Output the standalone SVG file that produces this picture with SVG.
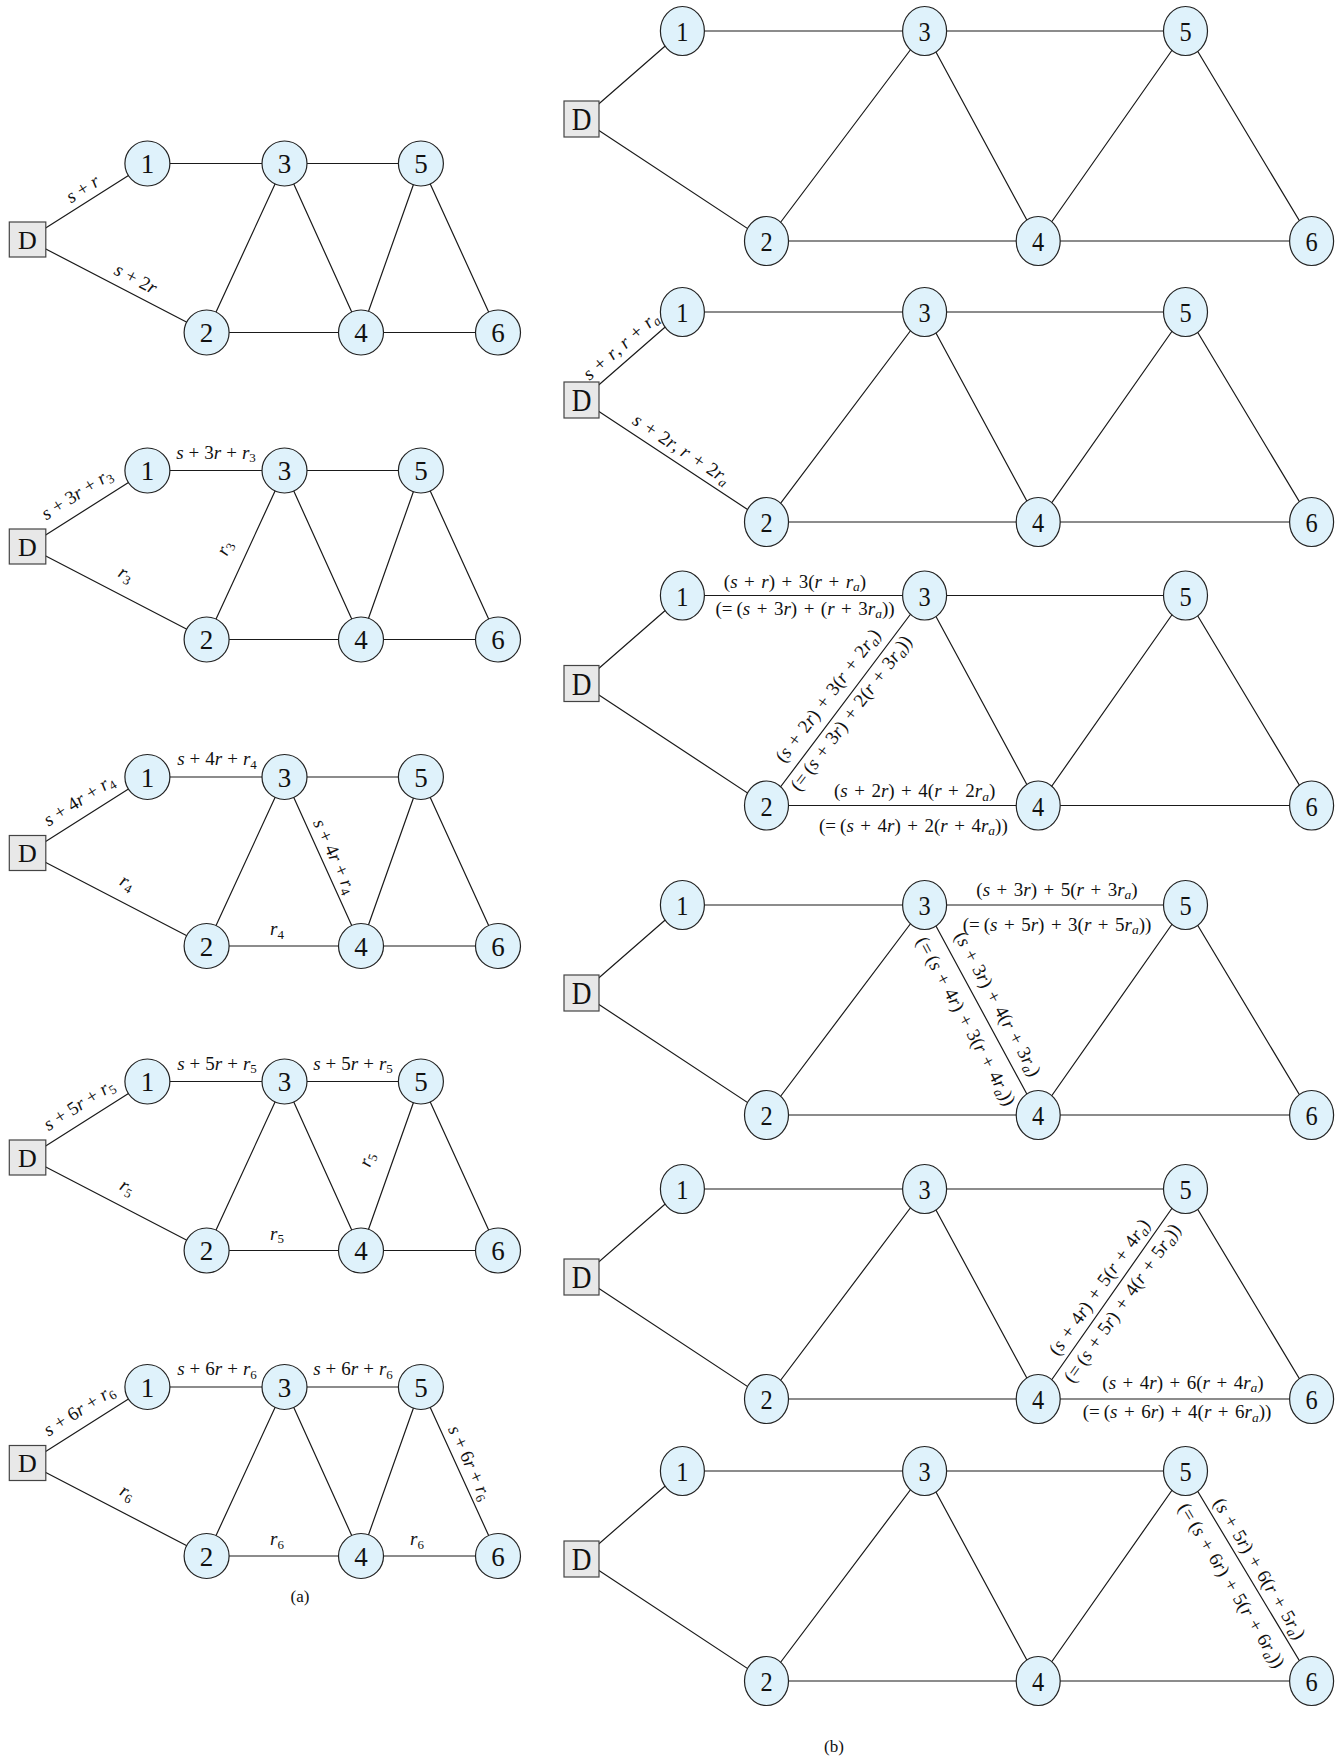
<svg xmlns="http://www.w3.org/2000/svg" width="1343" height="1758" viewBox="0 0 1343 1758">
<style>
.bg{fill:#ffffff}
.e{stroke:#1a1a1a;stroke-width:1.2;fill:none}
.n{fill:#dff2fb;stroke:#222;stroke-width:1.2}
.d{fill:#e8e8e8;stroke:#444;stroke-width:1.2}
.nl{font-family:"Liberation Serif",serif;font-size:27px;text-anchor:middle;fill:#111}
.nb{font-family:"Liberation Serif",serif;font-size:28px;text-anchor:middle;fill:#111}
.dl{font-family:"Liberation Serif",serif;font-size:26px;text-anchor:middle;fill:#111}
.dlb{font-family:"Liberation Serif",serif;font-size:31px;text-anchor:middle;fill:#111}
.l{font-family:"Liberation Serif",serif;font-size:19px;text-anchor:middle;fill:#111}
.lb{font-family:"Liberation Serif",serif;font-size:19px;text-anchor:middle;fill:#111}
.i{font-style:italic}
.s{font-size:13px}
.sb{font-size:13.5px}
.cap{font-family:"Liberation Serif",serif;font-size:17px;text-anchor:middle;fill:#111}
</style>
<rect class="bg" x="0" y="0" width="1343" height="1758"/>

<!-- ===== (a) panel 1 ===== -->
<g id="a1" transform="translate(0,163.5)">
<g id="a1-edges">
<path class="e" d="M27.5,76L147.4,0M27.5,76L206.6,169M147.4,0L284.5,0M284.5,0L420.9,0M206.6,169L361,169M361,169L498,169M284.5,0L206.6,169M284.5,0L361,169M420.9,0L361,169M420.9,0L498,169"/>
<g transform="translate(89.7,36.5) rotate(-32.37)"><text class="l" y="-7"><tspan class="i">s</tspan><tspan dx="5">+</tspan><tspan class="i" dx="5">r</tspan></text></g>
<g transform="translate(128.9,128.7) rotate(27.44)"><text class="l" y="-9"><tspan class="i">s</tspan><tspan dx="5">+</tspan><tspan dx="5">2</tspan><tspan class="i">r</tspan></text></g>
</g>
<g id="a1-D"><rect class="d" x="9.3" y="58.5" width="36.5" height="35"/><text class="dl" x="27.5" y="85">D</text></g>
<g id="a1-n1"><circle class="n" cx="147.4" cy="0" r="22.5"/><text class="nl" x="147.4" y="9.5">1</text></g>
<g id="a1-n2"><circle class="n" cx="206.6" cy="169" r="22.5"/><text class="nl" x="206.6" y="178.5">2</text></g>
<g id="a1-n3"><circle class="n" cx="284.5" cy="0" r="22.5"/><text class="nl" x="284.5" y="9.5">3</text></g>
<g id="a1-n4"><circle class="n" cx="361" cy="169" r="22.5"/><text class="nl" x="361" y="178.5">4</text></g>
<g id="a1-n5"><circle class="n" cx="420.9" cy="0" r="22.5"/><text class="nl" x="420.9" y="9.5">5</text></g>
<g id="a1-n6"><circle class="n" cx="498" cy="169" r="22.5"/><text class="nl" x="498" y="178.5">6</text></g>
</g>

<!-- ===== (a) panel 2 ===== -->
<g id="a2" transform="translate(0,470.5)">
<g id="a2-edges">
<path class="e" d="M27.5,76L147.4,0M27.5,76L206.6,169M147.4,0L284.5,0M284.5,0L420.9,0M206.6,169L361,169M361,169L498,169M284.5,0L206.6,169M284.5,0L361,169M420.9,0L361,169M420.9,0L498,169"/>
<g transform="translate(86.4,38.7) rotate(-32.37)"><text class="l" y="-12"><tspan class="i">s</tspan><tspan dx="5">+</tspan><tspan dx="5">3</tspan><tspan class="i">r</tspan><tspan dx="5">+</tspan><tspan class="i" dx="5">r</tspan><tspan class="s" dy="3.5">3</tspan></text></g>
<text class="l" x="216" y="-12"><tspan class="i">s</tspan><tspan dx="5">+</tspan><tspan dx="5">3</tspan><tspan class="i">r</tspan><tspan dx="5">+</tspan><tspan class="i" dx="5">r</tspan><tspan class="s" dy="3.5">3</tspan></text>
<g transform="translate(244.5,86.7) rotate(-65.25)"><text class="l" y="-16"><tspan class="i">r</tspan><tspan class="s" dy="3.5">3</tspan></text></g>
<g transform="translate(116.3,122.1) rotate(27.44)"><text class="l" y="-15"><tspan class="i">r</tspan><tspan class="s" dy="3.5">3</tspan></text></g>
</g>
<g id="a2-D"><rect class="d" x="9.3" y="58.5" width="36.5" height="35"/><text class="dl" x="27.5" y="85">D</text></g>
<g id="a2-n1"><circle class="n" cx="147.4" cy="0" r="22.5"/><text class="nl" x="147.4" y="9.5">1</text></g>
<g id="a2-n2"><circle class="n" cx="206.6" cy="169" r="22.5"/><text class="nl" x="206.6" y="178.5">2</text></g>
<g id="a2-n3"><circle class="n" cx="284.5" cy="0" r="22.5"/><text class="nl" x="284.5" y="9.5">3</text></g>
<g id="a2-n4"><circle class="n" cx="361" cy="169" r="22.5"/><text class="nl" x="361" y="178.5">4</text></g>
<g id="a2-n5"><circle class="n" cx="420.9" cy="0" r="22.5"/><text class="nl" x="420.9" y="9.5">5</text></g>
<g id="a2-n6"><circle class="n" cx="498" cy="169" r="22.5"/><text class="nl" x="498" y="178.5">6</text></g>
</g>

<!-- ===== (a) panel 3 ===== -->
<g id="a3" transform="translate(0,777)">
<g id="a3-edges">
<path class="e" d="M27.5,76L147.4,0M27.5,76L206.6,169M147.4,0L284.5,0M284.5,0L420.9,0M206.6,169L361,169M361,169L498,169M284.5,0L206.6,169M284.5,0L361,169M420.9,0L361,169M420.9,0L498,169"/>
<g transform="translate(88,37.7) rotate(-32.37)"><text class="l" y="-11"><tspan class="i">s</tspan><tspan dx="5">+</tspan><tspan dx="5">4</tspan><tspan class="i">r</tspan><tspan dx="5">+</tspan><tspan class="i" dx="5">r</tspan><tspan class="s" dy="3.5">4</tspan></text></g>
<text class="l" x="217" y="-12"><tspan class="i">s</tspan><tspan dx="5">+</tspan><tspan dx="5">4</tspan><tspan class="i">r</tspan><tspan dx="5">+</tspan><tspan class="i" dx="5">r</tspan><tspan class="s" dy="3.5">4</tspan></text>
<g transform="translate(322.8,84.6) rotate(65.64)"><text class="l" y="-7"><tspan class="i">s</tspan><tspan dx="5">+</tspan><tspan dx="5">4</tspan><tspan class="i">r</tspan><tspan dx="5">+</tspan><tspan class="i" dx="5">r</tspan><tspan class="s" dy="3.5">4</tspan></text></g>
<g transform="translate(118.1,123.1) rotate(27.44)"><text class="l" y="-14"><tspan class="i">r</tspan><tspan class="s" dy="3.5">4</tspan></text></g>
<text class="l" x="277" y="158"><tspan class="i">r</tspan><tspan class="s" dy="3.5">4</tspan></text>
</g>
<g id="a3-D"><rect class="d" x="9.3" y="58.5" width="36.5" height="35"/><text class="dl" x="27.5" y="85">D</text></g>
<g id="a3-n1"><circle class="n" cx="147.4" cy="0" r="22.5"/><text class="nl" x="147.4" y="9.5">1</text></g>
<g id="a3-n2"><circle class="n" cx="206.6" cy="169" r="22.5"/><text class="nl" x="206.6" y="178.5">2</text></g>
<g id="a3-n3"><circle class="n" cx="284.5" cy="0" r="22.5"/><text class="nl" x="284.5" y="9.5">3</text></g>
<g id="a3-n4"><circle class="n" cx="361" cy="169" r="22.5"/><text class="nl" x="361" y="178.5">4</text></g>
<g id="a3-n5"><circle class="n" cx="420.9" cy="0" r="22.5"/><text class="nl" x="420.9" y="9.5">5</text></g>
<g id="a3-n6"><circle class="n" cx="498" cy="169" r="22.5"/><text class="nl" x="498" y="178.5">6</text></g>
</g>

<!-- ===== (a) panel 4 ===== -->
<g id="a4" transform="translate(0,1081.5)">
<g id="a4-edges">
<path class="e" d="M27.5,76L147.4,0M27.5,76L206.6,169M147.4,0L284.5,0M284.5,0L420.9,0M206.6,169L361,169M361,169L498,169M284.5,0L206.6,169M284.5,0L361,169M420.9,0L361,169M420.9,0L498,169"/>
<g transform="translate(88,37.7) rotate(-32.37)"><text class="l" y="-11"><tspan class="i">s</tspan><tspan dx="5">+</tspan><tspan dx="5">5</tspan><tspan class="i">r</tspan><tspan dx="5">+</tspan><tspan class="i" dx="5">r</tspan><tspan class="s" dy="3.5">5</tspan></text></g>
<text class="l" x="217" y="-12"><tspan class="i">s</tspan><tspan dx="5">+</tspan><tspan dx="5">5</tspan><tspan class="i">r</tspan><tspan dx="5">+</tspan><tspan class="i" dx="5">r</tspan><tspan class="s" dy="3.5">5</tspan></text>
<text class="l" x="353" y="-12"><tspan class="i">s</tspan><tspan dx="5">+</tspan><tspan dx="5">5</tspan><tspan class="i">r</tspan><tspan dx="5">+</tspan><tspan class="i" dx="5">r</tspan><tspan class="s" dy="3.5">5</tspan></text>
<g transform="translate(390.3,86.2) rotate(-70.49)"><text class="l" y="-19"><tspan class="i">r</tspan><tspan class="s" dy="3.5">5</tspan></text></g>
<g transform="translate(118.1,123.1) rotate(27.44)"><text class="l" y="-14"><tspan class="i">r</tspan><tspan class="s" dy="3.5">5</tspan></text></g>
<text class="l" x="277" y="158"><tspan class="i">r</tspan><tspan class="s" dy="3.5">5</tspan></text>
</g>
<g id="a4-D"><rect class="d" x="9.3" y="58.5" width="36.5" height="35"/><text class="dl" x="27.5" y="85">D</text></g>
<g id="a4-n1"><circle class="n" cx="147.4" cy="0" r="22.5"/><text class="nl" x="147.4" y="9.5">1</text></g>
<g id="a4-n2"><circle class="n" cx="206.6" cy="169" r="22.5"/><text class="nl" x="206.6" y="178.5">2</text></g>
<g id="a4-n3"><circle class="n" cx="284.5" cy="0" r="22.5"/><text class="nl" x="284.5" y="9.5">3</text></g>
<g id="a4-n4"><circle class="n" cx="361" cy="169" r="22.5"/><text class="nl" x="361" y="178.5">4</text></g>
<g id="a4-n5"><circle class="n" cx="420.9" cy="0" r="22.5"/><text class="nl" x="420.9" y="9.5">5</text></g>
<g id="a4-n6"><circle class="n" cx="498" cy="169" r="22.5"/><text class="nl" x="498" y="178.5">6</text></g>
</g>

<!-- ===== (a) panel 5 ===== -->
<g id="a5" transform="translate(0,1387)">
<g id="a5-edges">
<path class="e" d="M27.5,76L147.4,0M27.5,76L206.6,169M147.4,0L284.5,0M284.5,0L420.9,0M206.6,169L361,169M361,169L498,169M284.5,0L206.6,169M284.5,0L361,169M420.9,0L361,169M420.9,0L498,169"/>
<g transform="translate(88,37.7) rotate(-32.37)"><text class="l" y="-11"><tspan class="i">s</tspan><tspan dx="5">+</tspan><tspan dx="5">6</tspan><tspan class="i">r</tspan><tspan dx="5">+</tspan><tspan class="i" dx="5">r</tspan><tspan class="s" dy="3.5">6</tspan></text></g>
<text class="l" x="217" y="-12"><tspan class="i">s</tspan><tspan dx="5">+</tspan><tspan dx="5">6</tspan><tspan class="i">r</tspan><tspan dx="5">+</tspan><tspan class="i" dx="5">r</tspan><tspan class="s" dy="3.5">6</tspan></text>
<text class="l" x="353" y="-12"><tspan class="i">s</tspan><tspan dx="5">+</tspan><tspan dx="5">6</tspan><tspan class="i">r</tspan><tspan dx="5">+</tspan><tspan class="i" dx="5">r</tspan><tspan class="s" dy="3.5">6</tspan></text>
<g transform="translate(457.9,81.1) rotate(65.47)"><text class="l" y="-7"><tspan class="i">s</tspan><tspan dx="5">+</tspan><tspan dx="5">6</tspan><tspan class="i">r</tspan><tspan dx="5">+</tspan><tspan class="i" dx="5">r</tspan><tspan class="s" dy="3.5">6</tspan></text></g>
<g transform="translate(118.1,123.1) rotate(27.44)"><text class="l" y="-14"><tspan class="i">r</tspan><tspan class="s" dy="3.5">6</tspan></text></g>
<text class="l" x="277" y="158"><tspan class="i">r</tspan><tspan class="s" dy="3.5">6</tspan></text>
<text class="l" x="417" y="158"><tspan class="i">r</tspan><tspan class="s" dy="3.5">6</tspan></text>
</g>
<g id="a5-D"><rect class="d" x="9.3" y="58.5" width="36.5" height="35"/><text class="dl" x="27.5" y="85">D</text></g>
<g id="a5-n1"><circle class="n" cx="147.4" cy="0" r="22.5"/><text class="nl" x="147.4" y="9.5">1</text></g>
<g id="a5-n2"><circle class="n" cx="206.6" cy="169" r="22.5"/><text class="nl" x="206.6" y="178.5">2</text></g>
<g id="a5-n3"><circle class="n" cx="284.5" cy="0" r="22.5"/><text class="nl" x="284.5" y="9.5">3</text></g>
<g id="a5-n4"><circle class="n" cx="361" cy="169" r="22.5"/><text class="nl" x="361" y="178.5">4</text></g>
<g id="a5-n5"><circle class="n" cx="420.9" cy="0" r="22.5"/><text class="nl" x="420.9" y="9.5">5</text></g>
<g id="a5-n6"><circle class="n" cx="498" cy="169" r="22.5"/><text class="nl" x="498" y="178.5">6</text></g>
</g>

<text class="cap" x="300" y="1602">(a)</text>

<!-- ===== (b) panel 1 ===== -->
<g id="b1" transform="translate(0,31)">
<g id="b1-edges">
<path class="e" d="M581.5,88L682.4,0M581.5,88L766.5,210M682.4,0L924.6,0M924.6,0L1185.5,0M766.5,210L1038.2,210M1038.2,210L1311.6,210M924.6,0L766.5,210M924.6,0L1038.2,210M1185.5,0L1038.2,210M1185.5,0L1311.6,210"/>
</g>
<g id="b1-D"><rect class="d" x="564" y="70" width="35" height="36"/><text class="dlb" transform="translate(581.5,99) scale(0.88,1)">D</text></g>
<g id="b1-n1"><ellipse class="n" cx="682.4" cy="0" rx="22" ry="24.5"/><text class="nb" transform="translate(682.4,10) scale(0.87,1)">1</text></g>
<g id="b1-n2"><ellipse class="n" cx="766.5" cy="210" rx="22" ry="24.5"/><text class="nb" transform="translate(766.5,220) scale(0.87,1)">2</text></g>
<g id="b1-n3"><ellipse class="n" cx="924.6" cy="0" rx="22" ry="24.5"/><text class="nb" transform="translate(924.6,10) scale(0.87,1)">3</text></g>
<g id="b1-n4"><ellipse class="n" cx="1038.2" cy="210" rx="22" ry="24.5"/><text class="nb" transform="translate(1038.2,220) scale(0.87,1)">4</text></g>
<g id="b1-n5"><ellipse class="n" cx="1185.5" cy="0" rx="22" ry="24.5"/><text class="nb" transform="translate(1185.5,10) scale(0.87,1)">5</text></g>
<g id="b1-n6"><ellipse class="n" cx="1311.6" cy="210" rx="22" ry="24.5"/><text class="nb" transform="translate(1311.6,220) scale(0.87,1)">6</text></g>
</g>

<!-- ===== (b) panel 2 ===== -->
<g id="b2" transform="translate(0,312)">
<g id="b2-edges">
<path class="e" d="M581.5,88L682.4,0M581.5,88L766.5,210M682.4,0L924.6,0M924.6,0L1185.5,0M766.5,210L1038.2,210M1038.2,210L1311.6,210M924.6,0L766.5,210M924.6,0L1038.2,210M1185.5,0L1038.2,210M1185.5,0L1311.6,210"/>
<g transform="translate(630.6,45.2) rotate(-41.1)"><text class="lb" y="-9"><tspan class="i">s</tspan><tspan dx="6.5">+</tspan><tspan class="i" dx="6.5">r</tspan>, <tspan class="i">r</tspan><tspan dx="6.5">+</tspan><tspan class="i" dx="6.5">r</tspan><tspan class="sb i" dy="3.5">a</tspan></text></g>
<g transform="translate(673.8,148.9) rotate(33.4)"><text class="lb" y="-8"><tspan class="i">s</tspan><tspan dx="6.5">+</tspan><tspan dx="6.5">2</tspan><tspan class="i">r</tspan>, <tspan class="i">r</tspan><tspan dx="6.5">+</tspan><tspan dx="6.5">2</tspan><tspan class="i">r</tspan><tspan class="sb i" dy="3.5">a</tspan></text></g>
</g>
<g id="b2-D"><rect class="d" x="564" y="70" width="35" height="36"/><text class="dlb" transform="translate(581.5,99) scale(0.88,1)">D</text></g>
<g id="b2-n1"><ellipse class="n" cx="682.4" cy="0" rx="22" ry="24.5"/><text class="nb" transform="translate(682.4,10) scale(0.87,1)">1</text></g>
<g id="b2-n2"><ellipse class="n" cx="766.5" cy="210" rx="22" ry="24.5"/><text class="nb" transform="translate(766.5,220) scale(0.87,1)">2</text></g>
<g id="b2-n3"><ellipse class="n" cx="924.6" cy="0" rx="22" ry="24.5"/><text class="nb" transform="translate(924.6,10) scale(0.87,1)">3</text></g>
<g id="b2-n4"><ellipse class="n" cx="1038.2" cy="210" rx="22" ry="24.5"/><text class="nb" transform="translate(1038.2,220) scale(0.87,1)">4</text></g>
<g id="b2-n5"><ellipse class="n" cx="1185.5" cy="0" rx="22" ry="24.5"/><text class="nb" transform="translate(1185.5,10) scale(0.87,1)">5</text></g>
<g id="b2-n6"><ellipse class="n" cx="1311.6" cy="210" rx="22" ry="24.5"/><text class="nb" transform="translate(1311.6,220) scale(0.87,1)">6</text></g>
</g>

<!-- ===== (b) panel 3 ===== -->
<g id="b3" transform="translate(0,595.5)">
<g id="b3-edges">
<path class="e" d="M581.5,88L682.4,0M581.5,88L766.5,210M682.4,0L924.6,0M924.6,0L1185.5,0M766.5,210L1038.2,210M1038.2,210L1311.6,210M924.6,0L766.5,210M924.6,0L1038.2,210M1185.5,0L1038.2,210M1185.5,0L1311.6,210"/>
<text class="lb" x="795" y="-8">(<tspan class="i">s</tspan><tspan dx="6.5">+</tspan><tspan class="i" dx="6.5">r</tspan>)<tspan dx="6.5">+</tspan><tspan dx="6.5">3(</tspan><tspan class="i">r</tspan><tspan dx="6.5">+</tspan><tspan class="i" dx="6.5">r</tspan><tspan class="sb i" dy="3.5">a</tspan><tspan dy="-3.5">)</tspan></text>
<text class="lb" x="805" y="19">(=<tspan dx="4">(</tspan><tspan class="i">s</tspan><tspan dx="6.5">+</tspan><tspan dx="6.5">3</tspan><tspan class="i">r</tspan>)<tspan dx="6.5">+</tspan><tspan dx="6.5">(</tspan><tspan class="i">r</tspan><tspan dx="6.5">+</tspan><tspan dx="6.5">3</tspan><tspan class="i">r</tspan><tspan class="sb i" dy="3.5">a</tspan><tspan dy="-3.5">))</tspan></text>
<g transform="translate(841.5,110.5) rotate(-53.03)">
<text class="lb" y="-11">(<tspan class="i">s</tspan><tspan dx="6.5">+</tspan><tspan dx="6.5">2</tspan><tspan class="i">r</tspan>)<tspan dx="6.5">+</tspan><tspan dx="6.5">3(</tspan><tspan class="i">r</tspan><tspan dx="6.5">+</tspan><tspan dx="6.5">2</tspan><tspan class="i">r</tspan><tspan class="sb i" dy="3.5">a</tspan><tspan dy="-3.5">)</tspan></text>
<text class="lb" y="18">(=<tspan dx="4">(</tspan><tspan class="i">s</tspan><tspan dx="6.5">+</tspan><tspan dx="6.5">3</tspan><tspan class="i">r</tspan>)<tspan dx="6.5">+</tspan><tspan dx="6.5">2(</tspan><tspan class="i">r</tspan><tspan dx="6.5">+</tspan><tspan dx="6.5">3</tspan><tspan class="i">r</tspan><tspan class="sb i" dy="3.5">a</tspan><tspan dy="-3.5">))</tspan></text>
</g>
<text class="lb" x="914.6" y="201.5">(<tspan class="i">s</tspan><tspan dx="6.5">+</tspan><tspan dx="6.5">2</tspan><tspan class="i">r</tspan>)<tspan dx="6.5">+</tspan><tspan dx="6.5">4(</tspan><tspan class="i">r</tspan><tspan dx="6.5">+</tspan><tspan dx="6.5">2</tspan><tspan class="i">r</tspan><tspan class="sb i" dy="3.5">a</tspan><tspan dy="-3.5">)</tspan></text>
<text class="lb" x="913.4" y="236">(=<tspan dx="4">(</tspan><tspan class="i">s</tspan><tspan dx="6.5">+</tspan><tspan dx="6.5">4</tspan><tspan class="i">r</tspan>)<tspan dx="6.5">+</tspan><tspan dx="6.5">2(</tspan><tspan class="i">r</tspan><tspan dx="6.5">+</tspan><tspan dx="6.5">4</tspan><tspan class="i">r</tspan><tspan class="sb i" dy="3.5">a</tspan><tspan dy="-3.5">))</tspan></text>
</g>
<g id="b3-D"><rect class="d" x="564" y="70" width="35" height="36"/><text class="dlb" transform="translate(581.5,99) scale(0.88,1)">D</text></g>
<g id="b3-n1"><ellipse class="n" cx="682.4" cy="0" rx="22" ry="24.5"/><text class="nb" transform="translate(682.4,10) scale(0.87,1)">1</text></g>
<g id="b3-n2"><ellipse class="n" cx="766.5" cy="210" rx="22" ry="24.5"/><text class="nb" transform="translate(766.5,220) scale(0.87,1)">2</text></g>
<g id="b3-n3"><ellipse class="n" cx="924.6" cy="0" rx="22" ry="24.5"/><text class="nb" transform="translate(924.6,10) scale(0.87,1)">3</text></g>
<g id="b3-n4"><ellipse class="n" cx="1038.2" cy="210" rx="22" ry="24.5"/><text class="nb" transform="translate(1038.2,220) scale(0.87,1)">4</text></g>
<g id="b3-n5"><ellipse class="n" cx="1185.5" cy="0" rx="22" ry="24.5"/><text class="nb" transform="translate(1185.5,10) scale(0.87,1)">5</text></g>
<g id="b3-n6"><ellipse class="n" cx="1311.6" cy="210" rx="22" ry="24.5"/><text class="nb" transform="translate(1311.6,220) scale(0.87,1)">6</text></g>
</g>

<!-- ===== (b) panel 4 ===== -->
<g id="b4" transform="translate(0,905)">
<g id="b4-edges">
<path class="e" d="M581.5,88L682.4,0M581.5,88L766.5,210M682.4,0L924.6,0M924.6,0L1185.5,0M766.5,210L1038.2,210M1038.2,210L1311.6,210M924.6,0L766.5,210M924.6,0L1038.2,210M1185.5,0L1038.2,210M1185.5,0L1311.6,210"/>
<text class="lb" x="1057" y="-9.5">(<tspan class="i">s</tspan><tspan dx="6.5">+</tspan><tspan dx="6.5">3</tspan><tspan class="i">r</tspan>)<tspan dx="6.5">+</tspan><tspan dx="6.5">5(</tspan><tspan class="i">r</tspan><tspan dx="6.5">+</tspan><tspan dx="6.5">3</tspan><tspan class="i">r</tspan><tspan class="sb i" dy="3.5">a</tspan><tspan dy="-3.5">)</tspan></text>
<text class="lb" x="1057" y="25.5">(=<tspan dx="4">(</tspan><tspan class="i">s</tspan><tspan dx="6.5">+</tspan><tspan dx="6.5">5</tspan><tspan class="i">r</tspan>)<tspan dx="6.5">+</tspan><tspan dx="6.5">3(</tspan><tspan class="i">r</tspan><tspan dx="6.5">+</tspan><tspan dx="6.5">5</tspan><tspan class="i">r</tspan><tspan class="sb i" dy="3.5">a</tspan><tspan dy="-3.5">))</tspan></text>
<g transform="translate(982.6,107.2) rotate(61.6)">
<text class="lb" y="-11">(<tspan class="i">s</tspan><tspan dx="6.5">+</tspan><tspan dx="6.5">3</tspan><tspan class="i">r</tspan>)<tspan dx="6.5">+</tspan><tspan dx="6.5">4(</tspan><tspan class="i">r</tspan><tspan dx="6.5">+</tspan><tspan dx="6.5">3</tspan><tspan class="i">r</tspan><tspan class="sb i" dy="3.5">a</tspan><tspan dy="-3.5">)</tspan></text>
<text class="lb" y="25">(=<tspan dx="4">(</tspan><tspan class="i">s</tspan><tspan dx="6.5">+</tspan><tspan dx="6.5">4</tspan><tspan class="i">r</tspan>)<tspan dx="6.5">+</tspan><tspan dx="6.5">3(</tspan><tspan class="i">r</tspan><tspan dx="6.5">+</tspan><tspan dx="6.5">4</tspan><tspan class="i">r</tspan><tspan class="sb i" dy="3.5">a</tspan><tspan dy="-3.5">))</tspan></text>
</g>
</g>
<g id="b4-D"><rect class="d" x="564" y="70" width="35" height="36"/><text class="dlb" transform="translate(581.5,99) scale(0.88,1)">D</text></g>
<g id="b4-n1"><ellipse class="n" cx="682.4" cy="0" rx="22" ry="24.5"/><text class="nb" transform="translate(682.4,10) scale(0.87,1)">1</text></g>
<g id="b4-n2"><ellipse class="n" cx="766.5" cy="210" rx="22" ry="24.5"/><text class="nb" transform="translate(766.5,220) scale(0.87,1)">2</text></g>
<g id="b4-n3"><ellipse class="n" cx="924.6" cy="0" rx="22" ry="24.5"/><text class="nb" transform="translate(924.6,10) scale(0.87,1)">3</text></g>
<g id="b4-n4"><ellipse class="n" cx="1038.2" cy="210" rx="22" ry="24.5"/><text class="nb" transform="translate(1038.2,220) scale(0.87,1)">4</text></g>
<g id="b4-n5"><ellipse class="n" cx="1185.5" cy="0" rx="22" ry="24.5"/><text class="nb" transform="translate(1185.5,10) scale(0.87,1)">5</text></g>
<g id="b4-n6"><ellipse class="n" cx="1311.6" cy="210" rx="22" ry="24.5"/><text class="nb" transform="translate(1311.6,220) scale(0.87,1)">6</text></g>
</g>

<!-- ===== (b) panel 5 ===== -->
<g id="b5" transform="translate(0,1189)">
<g id="b5-edges">
<path class="e" d="M581.5,88L682.4,0M581.5,88L766.5,210M682.4,0L924.6,0M924.6,0L1185.5,0M766.5,210L1038.2,210M1038.2,210L1311.6,210M924.6,0L766.5,210M924.6,0L1038.2,210M1185.5,0L1038.2,210M1185.5,0L1311.6,210"/>
<g transform="translate(1110.9,106.2) rotate(-54.95)">
<text class="lb" y="-8">(<tspan class="i">s</tspan><tspan dx="6.5">+</tspan><tspan dx="6.5">4</tspan><tspan class="i">r</tspan>)<tspan dx="6.5">+</tspan><tspan dx="6.5">5(</tspan><tspan class="i">r</tspan><tspan dx="6.5">+</tspan><tspan dx="6.5">4</tspan><tspan class="i">r</tspan><tspan class="sb i" dy="3.5">a</tspan><tspan dy="-3.5">)</tspan></text>
<text class="lb" y="20">(=<tspan dx="4">(</tspan><tspan class="i">s</tspan><tspan dx="6.5">+</tspan><tspan dx="6.5">5</tspan><tspan class="i">r</tspan>)<tspan dx="6.5">+</tspan><tspan dx="6.5">4(</tspan><tspan class="i">r</tspan><tspan dx="6.5">+</tspan><tspan dx="6.5">5</tspan><tspan class="i">r</tspan><tspan class="sb i" dy="3.5">a</tspan><tspan dy="-3.5">))</tspan></text>
</g>
<text class="lb" x="1183" y="199.7">(<tspan class="i">s</tspan><tspan dx="6.5">+</tspan><tspan dx="6.5">4</tspan><tspan class="i">r</tspan>)<tspan dx="6.5">+</tspan><tspan dx="6.5">6(</tspan><tspan class="i">r</tspan><tspan dx="6.5">+</tspan><tspan dx="6.5">4</tspan><tspan class="i">r</tspan><tspan class="sb i" dy="3.5">a</tspan><tspan dy="-3.5">)</tspan></text>
<text class="lb" x="1177" y="229">(=<tspan dx="4">(</tspan><tspan class="i">s</tspan><tspan dx="6.5">+</tspan><tspan dx="6.5">6</tspan><tspan class="i">r</tspan>)<tspan dx="6.5">+</tspan><tspan dx="6.5">4(</tspan><tspan class="i">r</tspan><tspan dx="6.5">+</tspan><tspan dx="6.5">6</tspan><tspan class="i">r</tspan><tspan class="sb i" dy="3.5">a</tspan><tspan dy="-3.5">))</tspan></text>
</g>
<g id="b5-D"><rect class="d" x="564" y="70" width="35" height="36"/><text class="dlb" transform="translate(581.5,99) scale(0.88,1)">D</text></g>
<g id="b5-n1"><ellipse class="n" cx="682.4" cy="0" rx="22" ry="24.5"/><text class="nb" transform="translate(682.4,10) scale(0.87,1)">1</text></g>
<g id="b5-n2"><ellipse class="n" cx="766.5" cy="210" rx="22" ry="24.5"/><text class="nb" transform="translate(766.5,220) scale(0.87,1)">2</text></g>
<g id="b5-n3"><ellipse class="n" cx="924.6" cy="0" rx="22" ry="24.5"/><text class="nb" transform="translate(924.6,10) scale(0.87,1)">3</text></g>
<g id="b5-n4"><ellipse class="n" cx="1038.2" cy="210" rx="22" ry="24.5"/><text class="nb" transform="translate(1038.2,220) scale(0.87,1)">4</text></g>
<g id="b5-n5"><ellipse class="n" cx="1185.5" cy="0" rx="22" ry="24.5"/><text class="nb" transform="translate(1185.5,10) scale(0.87,1)">5</text></g>
<g id="b5-n6"><ellipse class="n" cx="1311.6" cy="210" rx="22" ry="24.5"/><text class="nb" transform="translate(1311.6,220) scale(0.87,1)">6</text></g>
</g>

<!-- ===== (b) panel 6 ===== -->
<g id="b6" transform="translate(0,1471)">
<g id="b6-edges">
<path class="e" d="M581.5,88L682.4,0M581.5,88L766.5,210M682.4,0L924.6,0M924.6,0L1185.5,0M766.5,210L1038.2,210M1038.2,210L1311.6,210M924.6,0L766.5,210M924.6,0L1038.2,210M1185.5,0L1038.2,210M1185.5,0L1311.6,210"/>
<g transform="translate(1248.3,104.5) rotate(58.99)">
<text class="lb" y="-7">(<tspan class="i">s</tspan><tspan dx="6.5">+</tspan><tspan dx="6.5">5</tspan><tspan class="i">r</tspan>)<tspan dx="6.5">+</tspan><tspan dx="6.5">6(</tspan><tspan class="i">r</tspan><tspan dx="6.5">+</tspan><tspan dx="6.5">5</tspan><tspan class="i">r</tspan><tspan class="sb i" dy="3.5">a</tspan><tspan dy="-3.5">)</tspan></text>
<text class="lb" y="25.5">(=<tspan dx="4">(</tspan><tspan class="i">s</tspan><tspan dx="6.5">+</tspan><tspan dx="6.5">6</tspan><tspan class="i">r</tspan>)<tspan dx="6.5">+</tspan><tspan dx="6.5">5(</tspan><tspan class="i">r</tspan><tspan dx="6.5">+</tspan><tspan dx="6.5">6</tspan><tspan class="i">r</tspan><tspan class="sb i" dy="3.5">a</tspan><tspan dy="-3.5">))</tspan></text>
</g>
</g>
<g id="b6-D"><rect class="d" x="564" y="70" width="35" height="36"/><text class="dlb" transform="translate(581.5,99) scale(0.88,1)">D</text></g>
<g id="b6-n1"><ellipse class="n" cx="682.4" cy="0" rx="22" ry="24.5"/><text class="nb" transform="translate(682.4,10) scale(0.87,1)">1</text></g>
<g id="b6-n2"><ellipse class="n" cx="766.5" cy="210" rx="22" ry="24.5"/><text class="nb" transform="translate(766.5,220) scale(0.87,1)">2</text></g>
<g id="b6-n3"><ellipse class="n" cx="924.6" cy="0" rx="22" ry="24.5"/><text class="nb" transform="translate(924.6,10) scale(0.87,1)">3</text></g>
<g id="b6-n4"><ellipse class="n" cx="1038.2" cy="210" rx="22" ry="24.5"/><text class="nb" transform="translate(1038.2,220) scale(0.87,1)">4</text></g>
<g id="b6-n5"><ellipse class="n" cx="1185.5" cy="0" rx="22" ry="24.5"/><text class="nb" transform="translate(1185.5,10) scale(0.87,1)">5</text></g>
<g id="b6-n6"><ellipse class="n" cx="1311.6" cy="210" rx="22" ry="24.5"/><text class="nb" transform="translate(1311.6,220) scale(0.87,1)">6</text></g>
</g>

<text class="cap" x="834" y="1752">(b)</text>
</svg>
